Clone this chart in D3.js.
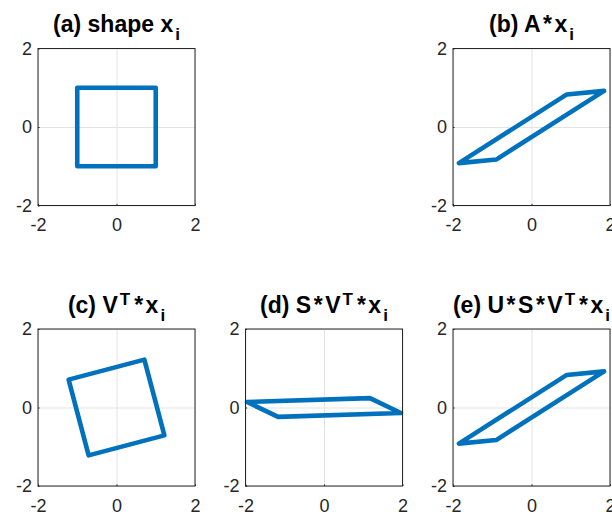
<!DOCTYPE html>
<html>
<head>
<meta charset="utf-8">
<script src="https://cdn.jsdelivr.net/npm/d3@7"></script>
<style>
  html, body { margin: 0; padding: 0; background: #fff; }
  svg { display: block; font-family: "Liberation Sans", Helvetica, Arial, sans-serif; }
</style>
</head>
<body>
<svg id="chart" width="612" height="517"></svg>
<script>
// Axis ticks shared by every panel
const ticks = [-2, 0, 2];
const tickLabels = ["-2", "0", "2"];

// Outline of each shape (closed polygon vertices, x/y pairs)
const shapeX   = [[-1, -1], [1, -1], [1, 1], [-1, 1]];
const shapeAX  = [[-1.85, -0.92], [0.9, 0.83], [1.85, 0.92], [-0.9, -0.83]];
const shapeVX  = [[0.71, 1.22], [1.22, -0.71], [-0.71, -1.22], [-1.22, 0.71]];
const shapeSVX = [[1.17, 0.24], [1.96, -0.14], [-1.17, -0.24], [-1.96, 0.14]];
const shapeUSVX = [[-1.85, -0.92], [0.9, 0.83], [1.85, 0.92], [-0.9, -0.83]];

// Title pieces: [text, style] where style is normal, sub or sup
const titleA = [["(a) shape x", "n"], ["i", "sub"]];
const titleB = [["(b) A*x", "n"], ["i", "sub"]];
const titleC = [["(c) V", "n"], ["T", "sup"], ["*x", "n"], ["i", "sub"]];
const titleD = [["(d) S*V", "n"], ["T", "sup"], ["*x", "n"], ["i", "sub"]];
const titleE = [["(e) U*S*V", "n"], ["T", "sup"], ["*x", "n"], ["i", "sub"]];

// Grid of subplots (2 rows x 3 columns)
const colLeft = [38, 245.5, 453];
const rowTop = [48.5, 329];
const size = 157;

const panels = [
  { col: 0, row: 0, pts: shapeX, title: titleA },
  { col: 2, row: 0, pts: shapeAX, title: titleB },
  { col: 0, row: 1, pts: shapeVX, title: titleC },
  { col: 1, row: 1, pts: shapeSVX, title: titleD },
  { col: 2, row: 1, pts: shapeUSVX, title: titleE }
];

const svg = d3.select("#chart");
svg.append("rect").attr("width", 612).attr("height", 517).attr("fill", "#fff");

const axisColor = "#262626";
const lineColor = "#0072BD";
const titleSize = 23, scriptSize = 17, opGap = 2.5;

// Split title pieces into runs; '*' operators get a little room on each side
function titleRuns(pieces) {
  const runs = [];
  pieces.forEach(([txt, kind]) => {
    if (kind !== "n") { runs.push({ txt, kind, dx: 2 }); return; }
    txt.split("*").forEach((part, k) => {
      if (k > 0) runs.push({ txt: "*", kind, dx: opGap });
      if (part) runs.push({ txt: part, kind, dx: k > 0 ? opGap : 0 });
    });
  });
  return runs;
}

panels.forEach(p => {
  const x0 = colLeft[p.col], y0 = rowTop[p.row];
  const x = d3.scaleLinear().domain([-2, 2]).range([0, size]);
  const y = d3.scaleLinear().domain([-2, 2]).range([size, 0]);
  const g = svg.append("g").attr("transform", `translate(${x0},${y0})`);

  // grid lines
  const gx = g.append("g").attr("transform", `translate(0,${size})`)
    .call(d3.axisBottom(x).tickValues(ticks).tickSize(-size).tickFormat(""));
  const gy = g.append("g")
    .call(d3.axisLeft(y).tickValues(ticks).tickSize(-size).tickFormat(""));
  [gx, gy].forEach(a => {
    a.select(".domain").remove();
    a.selectAll("line").attr("stroke", "#e3e3e3").attr("stroke-width", 1);
  });

  // shape outline
  const line = d3.line().x(d => x(d[0])).y(d => y(d[1])).curve(d3.curveLinearClosed);
  g.append("path")
    .datum(p.pts)
    .attr("d", line)
    .attr("fill", "none")
    .attr("stroke", lineColor)
    .attr("stroke-width", 4.6)
    .attr("stroke-linejoin", "round");

  // box
  g.append("rect")
    .attr("x", 0).attr("y", 0).attr("width", size).attr("height", size)
    .attr("fill", "none").attr("stroke", axisColor).attr("stroke-width", 1);

  // inward tick marks
  const tk = 1.6;
  g.append("g").attr("transform", `translate(0,${size})`)
    .call(d3.axisBottom(x).tickValues(ticks).tickSize(-tk).tickFormat(""))
    .call(a => a.select(".domain").remove())
    .selectAll("line").attr("stroke", axisColor);
  g.append("g")
    .call(d3.axisLeft(y).tickValues(ticks).tickSize(-tk).tickFormat(""))
    .call(a => a.select(".domain").remove())
    .selectAll("line").attr("stroke", axisColor);

  // tick labels
  const lx = g.append("g").attr("transform", `translate(0,${size})`)
    .call(d3.axisBottom(x).tickValues(ticks).tickSize(0).tickPadding(13)
      .tickFormat((d, i) => tickLabels[i]));
  const ly = g.append("g")
    .call(d3.axisLeft(y).tickValues(ticks).tickSize(0).tickPadding(6)
      .tickFormat((d, i) => tickLabels[i]));
  [lx, ly].forEach(a => {
    a.select(".domain").remove();
    a.selectAll("text")
      .attr("fill", axisColor)
      .style("font-size", "18px")
      .style("font-family", "'Liberation Sans', Helvetica, Arial, sans-serif");
  });

  // title with sub/superscripts
  const t = g.append("text")
    .attr("x", size / 2)
    .attr("y", -16.5)
    .attr("text-anchor", "middle")
    .attr("fill", "#000")
    .style("font-weight", "bold")
    .style("font-size", titleSize + "px");
  let shift = 0;
  titleRuns(p.title).forEach(r => {
    const target = r.kind === "sub" ? 8 : r.kind === "sup" ? -8 : 0;
    const extra = (r.kind === "n" && shift !== 0) ? 1.5 : 0;
    t.append("tspan")
      .attr("dy", target - shift)
      .attr("dx", r.dx + extra)
      .style("font-size", (r.kind === "n" ? titleSize : scriptSize) + "px")
      .text(r.txt);
    shift = target;
  });
});
</script>
</body>
</html>
